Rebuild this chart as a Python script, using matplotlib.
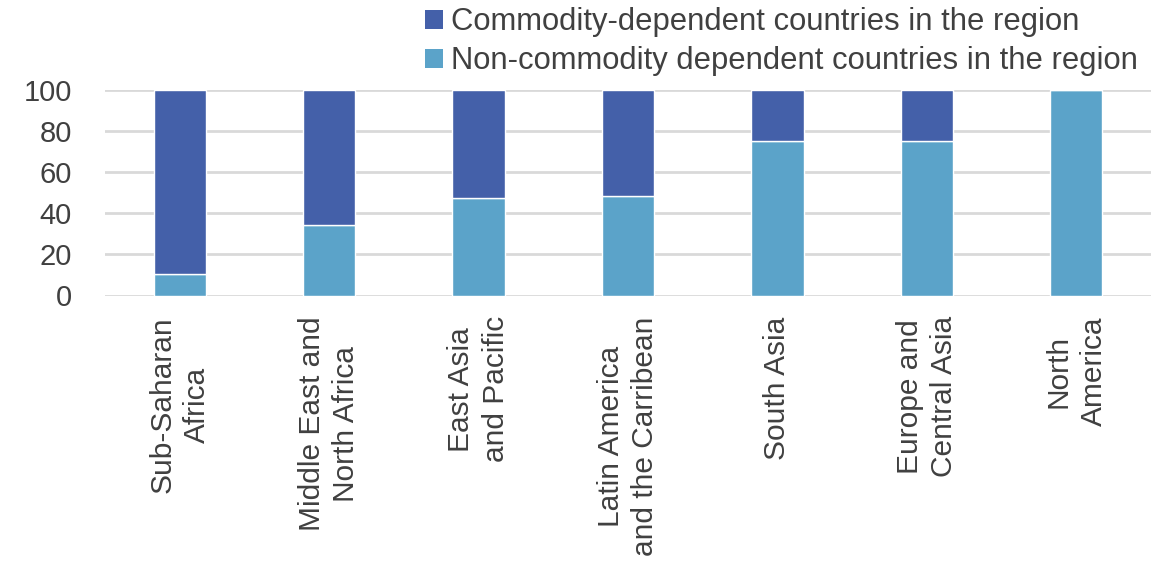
import matplotlib
matplotlib.use("Agg")
import matplotlib.pyplot as plt
from matplotlib.patches import Patch

plt.rcParams['font.family'] = ['Liberation Sans', 'DejaVu Sans']

categories = ["Sub-Saharan\nAfrica", "Middle East and\nNorth Africa", "East Asia\nand Pacific",
              "Latin America\nand the Carribean", "South Asia", "Europe and\nCentral Asia",
              "North\nAmerica"]
non_commodity = [10.5, 34.5, 47.3, 48.3, 75, 75, 100]
commodity = [89.5, 65.5, 52.7, 51.7, 25, 25, 0]
series_names = ["Commodity-dependent countries in the region",
                "Non-commodity dependent countries in the region"]
yticks = [0, 20, 40, 60, 80, 100]

dark = "#4460A9"
light = "#5BA3C9"
text_color = "#404040"

fig = plt.figure(figsize=(11.67, 5.66), dpi=100)
W, H = 1167, 566
ax = fig.add_axes([105 / W, 1 - 295.5 / H, (1151 - 105) / W, (295.5 - 90) / H])

x = list(range(len(categories)))
ax.bar(x, non_commodity, width=0.35, color=light, edgecolor="white", linewidth=1, zorder=3)
ax.bar(x, commodity, bottom=non_commodity, width=0.35, color=dark, edgecolor="white",
       linewidth=1, zorder=3)

ax.set_xlim(-0.5, len(categories) - 0.5)
ax.set_ylim(0, 100)
ax.set_yticks(yticks)
ax.set_yticklabels([str(v) for v in yticks], fontsize=21, color=text_color)
ax.yaxis.grid(True, color="#D9D9D9", linewidth=2, zorder=0)
ax.set_axisbelow(True)
for s in ax.spines.values():
    s.set_visible(False)
ax.tick_params(axis='y', length=0, pad=24)
ax.tick_params(axis='x', length=0, pad=15)
ax.set_xticks(x)
ax.set_xticklabels(categories, rotation=90, fontsize=21.5, color=text_color,
                   ha='center', va='top', multialignment='center', linespacing=1.3)

handles = [Patch(facecolor=dark, edgecolor='none'), Patch(facecolor=light, edgecolor='none')]
fig.legend(handles, series_names, loc='upper left', bbox_to_anchor=(410 / W, 1.0 + 8 / H),
           frameon=False, fontsize=22.3, handlelength=0.55, handleheight=0.55,
           handletextpad=0.28, labelspacing=0.28, labelcolor=text_color, borderaxespad=0.1)

fig.savefig("out.png", dpi=100)
